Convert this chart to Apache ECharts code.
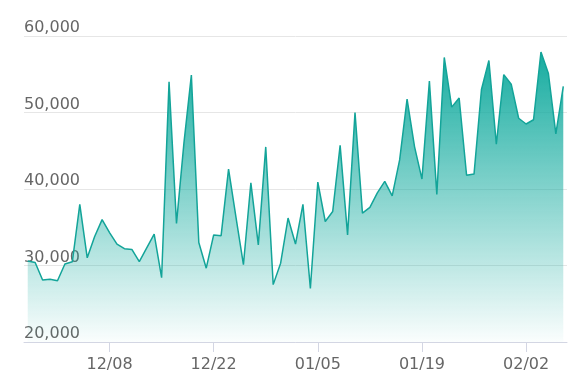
<!DOCTYPE html>
<html>
<head>
<meta charset="utf-8">
<script src="https://cdn.jsdelivr.net/npm/echarts@6/dist/echarts.min.js"></script>
<style>html,body{margin:0;padding:0;background:#fff;}#c{width:583px;height:388px;}</style>
</head>
<body>
<div id="c"></div>
<script>
var categories = [
  '11/27','11/28','11/29','11/30',
  '12/01','12/02','12/03','12/04','12/05','12/06','12/07','12/08','12/09','12/10',
  '12/11','12/12','12/13','12/14','12/15','12/16','12/17','12/18','12/19','12/20',
  '12/21','12/22','12/23','12/24','12/25','12/26','12/27','12/28','12/29','12/30','12/31',
  '01/01','01/02','01/03','01/04','01/05','01/06','01/07','01/08','01/09','01/10',
  '01/11','01/12','01/13','01/14','01/15','01/16','01/17','01/18','01/19','01/20',
  '01/21','01/22','01/23','01/24','01/25','01/26','01/27','01/28','01/29','01/30','01/31',
  '02/01','02/02','02/03','02/04','02/05','02/06','02/07'
];
var values = [
  30600, 30400, 28100, 28200, 28000, 30200, 30500, 38000, 31000, 33800,
  36000, 34300, 32800, 32200, 32100, 30500, 32300, 34100, 28400, 54000,
  35500, 46000, 54900, 33000, 29650, 34000, 33900, 42600, 36300, 30100,
  40800, 32700, 45500, 27500, 30300, 36200, 32800, 38000, 27000, 40900,
  35750, 37050, 45700, 34000, 50000, 36850, 37600, 39500, 41000, 39100,
  43800, 51750, 45550, 41300, 54100, 39300, 57200, 50700, 51900, 41800,
  41950, 53000, 56800, 45850, 54950, 53700, 49250, 48500, 49050, 57900,
  55100, 47200, 53400
];
var yTicks = [20000, 30000, 40000, 50000, 60000];
var labelStart = 11, labelStep = 14;

var chart = echarts.init(document.getElementById('c'), null, {renderer: 'canvas'});
function showIdx(i){ return i >= labelStart && (i - labelStart) % labelStep === 0; }
chart.setOption({
  animation: false,
  grid: {left: 24, right: 16, top: 36, bottom: 46},
  xAxis: {
    type: 'category',
    data: categories,
    boundaryGap: true,
    axisLine: {lineStyle: {color: '#d3d6e3', width: 1}},
    axisTick: {show: true, alignWithLabel: true, length: 10, interval: function(i){return showIdx(i);}, lineStyle: {color: '#d3d6e3'}},
    axisLabel: {interval: function(i){return showIdx(i);}, color: '#666666', fontSize: 16, margin: 15, fontFamily: 'DejaVu Sans'}
  },
  yAxis: {
    type: 'value',
    min: yTicks[0], max: yTicks[yTicks.length-1], interval: 10000,
    axisLine: {show: false},
    axisTick: {show: false},
    splitLine: {lineStyle: {color: '#e6e6e6', width: 1}},
    axisLabel: {
      inside: true, margin: 0, verticalAlign: 'bottom', padding: [0,0,0,0],
      color: '#666666', fontSize: 16, fontFamily: 'DejaVu Sans',
      formatter: function(v){ return v.toLocaleString('en-US'); }
    }
  },
  series: [{
    type: 'line',
    data: values,
    showSymbol: false,
    lineStyle: {color: '#13a499', width: 1.5},
    itemStyle: {color: '#13a499'},
    areaStyle: {
      opacity: 1,
      color: new echarts.graphic.LinearGradient(0, 0, 0, 1, [
        {offset: 0, color: 'rgba(22,172,160,1)'},
        {offset: 1, color: 'rgba(22,172,160,0.02)'}
      ])
    }
  }]
});
</script>
</body>
</html>
